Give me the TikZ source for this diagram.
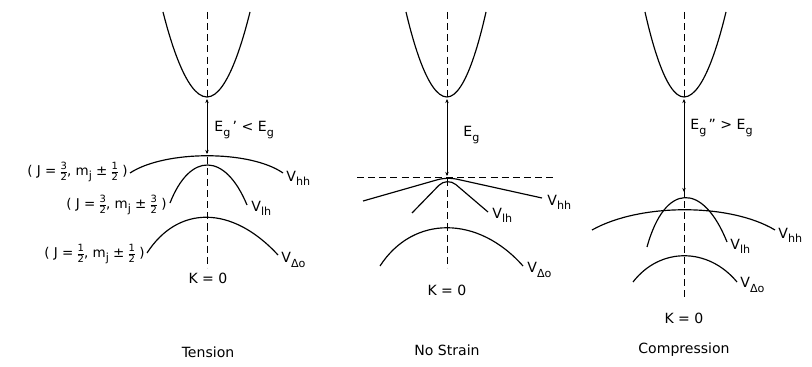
\documentclass[tikz,border=0pt]{standalone}
\usepackage{amsmath}
\usepackage{fontspec}
\setmainfont{DejaVu Sans}
\usetikzlibrary{arrows.meta}

% lowered subscript, nearly full size as in the lettering
\newcommand{\lsub}[1]{\raisebox{-0.55ex}{\fontsize{9.5}{10}\selectfont #1}}
% small stacked fraction in text font
\newcommand{\hfrac}[2]{{\renewcommand{\arraystretch}{0.9}\setlength{\tabcolsep}{0pt}%
  \fontsize{8.5}{9}\selectfont\begin{tabular}{c}#1\\[-1pt]\hline\noalign{\vskip 1pt}#2\end{tabular}}}

\begin{document}
\begin{tikzpicture}[x=0.03cm, y=-0.03cm,
    band/.style={line width=1pt},
    kaxis/.style={line width=0.8pt, dash pattern=on 6pt off 3.5pt},
    gap/.style={{Stealth[length=3.5pt,width=3pt]}-{Stealth[length=3.5pt,width=3pt]},
                line width=0.7pt},
    vlbl/.style={anchor=west, inner sep=1pt, font=\fontsize{12}{14}\selectfont},
    jlbl/.style={anchor=east, inner sep=1pt, font=\fontsize{11.5}{13}\selectfont},
    glbl/.style={anchor=west, inner sep=1pt, font=\fontsize{12}{14}\selectfont},
    klbl/.style={inner sep=1pt, font=\fontsize{12}{14}\selectfont},
    ttl/.style={inner sep=1pt, font=\fontsize{12}{14}\selectfont}
]
\useasboundingbox (0,0) rectangle (812,367);

% --- Tension ---
\coordinate (tTop) at (207,12);
\coordinate (tBot) at (207,268);
\draw[kaxis] (tTop) -- (tBot);
\draw[band] (163,12) parabola bend (207,97) (250,12);
\coordinate (tCB) at (207,99);
\coordinate (tVB) at (207,154);
\draw[gap] (tCB) -- (tVB);
\node[glbl] (tGap) at (213,130) {E\lsub{g}\,' < E\lsub{g}};

\draw[band] (130,173) .. controls (165,150) and (250,150) .. (283,173);
\draw[band] (170,203) .. controls (190,152) and (225,152) .. (247,205);
\draw[band] (147,253) .. controls (178,205) and (232,205) .. (278,255);

\node[vlbl] (tVhh) at (285,178) {V\lsub{hh}};
\node[vlbl] (tVlh) at (250,208) {V\lsub{lh}};
\node[vlbl] (tVso) at (280,260) {V\lsub{Δo}};

\node[jlbl] (tJ1) at (129,173) {( J = \hfrac{3}{2}, m\lsub{j} ± \hfrac{1}{2} )};
\node[jlbl] (tJ2) at (168,206) {( J = \hfrac{3}{2}, m\lsub{j} ± \hfrac{3}{2} )};
\node[jlbl] (tJ3) at (146,255) {( J = \hfrac{1}{2}, m\lsub{j} ± \hfrac{1}{2} )};

\node[klbl] (tK) at (208,278) {K = 0};
\node[ttl] (tTitle) at (208,352) {Tension};

% --- No Strain ---
\coordinate (nTop) at (447,12);
\coordinate (nBot) at (447,268);
\draw[kaxis] (nTop) -- (nBot);
\coordinate (nLeft) at (357,177);
\coordinate (nRight) at (556,177);
\draw[kaxis] (nLeft) -- (nRight);
\draw[band] (406,12) parabola bend (447,97) (486,12);
\coordinate (nCB) at (447,99);
\coordinate (nVB) at (447,176);
\draw[gap] (nCB) -- (nVB);
\node[glbl] (nGap) at (462,135) {E\lsub{g}};

\draw[band, rounded corners=8pt] (363,201) -- (447,177) -- (542,198);
\draw[band, rounded corners=10pt] (412,213) -- (447,177) -- (488,212);
\draw[band] (380,266) .. controls (413,215) and (478,215) .. (523,266);

\node[vlbl] (nVhh) at (546,202) {V\lsub{hh}};
\node[vlbl] (nVlh) at (491,215) {V\lsub{lh}};
\node[vlbl] (nVso) at (526,270) {V\lsub{Δo}};

\node[klbl] (nK) at (447,290) {K = 0};
\node[ttl] (nTitle) at (447,350) {No Strain};

% --- Compression ---
\coordinate (cTop) at (684,12);
\coordinate (cBot) at (684,300);
\draw[kaxis] (cTop) -- (cBot);
\draw[band] (645,12) parabola bend (684,97) (726,12);
\coordinate (cCB) at (684,99);
\coordinate (cVB) at (684,192);
\draw[gap] (cCB) -- (cVB);
\node[glbl] (cGap) at (689,128) {E\lsub{g}\,'' > E\lsub{g}};

\draw[band] (592,230) .. controls (640,203) and (730,203) .. (775,230);
\draw[band] (647,247) .. controls (665,182) and (703,182) .. (727,242);
\draw[band] (633,282) .. controls (660,247) and (708,247) .. (737,282);

\node[vlbl] (cVhh) at (777,235) {V\lsub{hh}};
\node[vlbl] (cVlh) at (729,246) {V\lsub{lh}};
\node[vlbl] (cVso) at (739,285) {V\lsub{Δo}};

\node[klbl] (cK) at (684,318) {K = 0};
\node[ttl] (cTitle) at (684,350) {Compression};

\end{tikzpicture}
\end{document}
